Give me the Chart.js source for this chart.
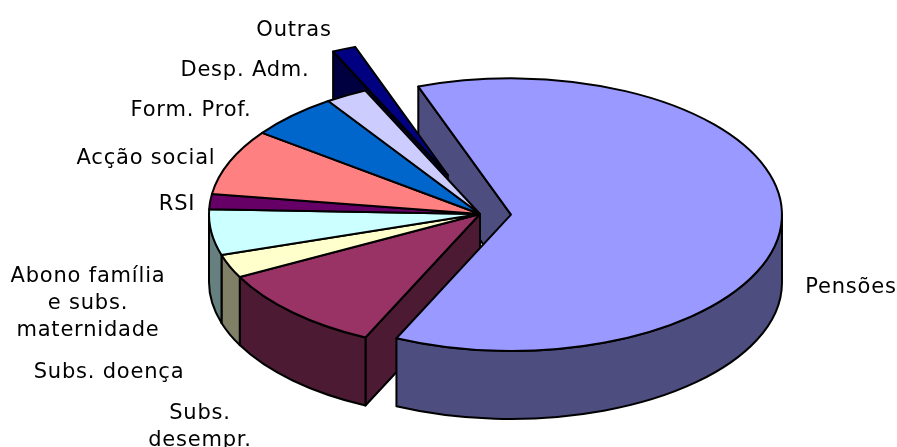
<!DOCTYPE html>
<html>
<head>
<meta charset="utf-8">
<script src="https://cdn.jsdelivr.net/npm/chart.js@4/dist/chart.umd.min.js"></script>
<style>
  html, body { margin: 0; padding: 0; background: #fff; }
  #wrap { width: 897px; height: 447px; }
</style>
</head>
<body>
<div id="wrap"><canvas id="chart"></canvas></div>
<script>
const categories = ['Pensões', 'Subs. desempr.', 'Subs. doença', 'Abono família e subs. maternidade',
    'RSI', 'Acção social', 'Form. Prof.', 'Desp. Adm.', 'Outras'];
const shares = [62.5, 10.4, 2.8, 5.4, 1.8, 7.8, 5.4, 2.5, 1.4];
const sliceColors = ['#9999FF', '#993366', '#FFFFCC', '#CCFFFF', '#660066', '#FF8080', '#0066CC', '#CCCCFF', '#000080'];
const explodePx = [31, 0, 0, 0, 0, 0, 0, 0, 84];

const labelLines = [['Pensões'], ['Subs.', 'desempr.'], ['Subs. doença'], ['Abono família', 'e subs.', 'maternidade'],
    ['RSI'], ['Acção social'], ['Form. Prof.'], ['Desp. Adm.'], ['Outras']];
const labelSpots = [[851, 293], [200, 419], [109, 378], [88, 282], [177, 210], [146, 164], [191, 116], [245, 76], [294, 36]];

const SQUASH = 0.503;
const DEPTH = 68;
const LINE_HEIGHT = 27;

function shade(hex) {
    const n = parseInt(hex.slice(1), 16);
    return `rgb(${Math.round((n >> 16) / 2)},${Math.round(((n >> 8) & 255) / 2)},${Math.round((n & 255) / 2)})`;
}

// slice geometry comes from the arc elements, the plugin only tilts and extrudes them
function origin(arc, i) {
    const mid = (arc.startAngle + arc.endAngle) / 2;
    return {
        x: arc.x + Math.cos(mid) * explodePx[i],
        y: arc.y + Math.sin(mid) * explodePx[i] * SQUASH
    };
}

function paint(ctx, fill) {
    ctx.fillStyle = fill;
    ctx.fill();
    ctx.stroke();
}

function drawTop(ctx, arc, i) {
    const o = origin(arc, i);
    ctx.beginPath();
    ctx.moveTo(o.x, o.y);
    ctx.ellipse(o.x, o.y, arc.outerRadius, arc.outerRadius * SQUASH, 0, arc.startAngle, arc.endAngle);
    ctx.closePath();
    paint(ctx, sliceColors[i]);
}

function drawCutFace(ctx, arc, i, angle) {
    const o = origin(arc, i);
    const ex = o.x + Math.cos(angle) * arc.outerRadius;
    const ey = o.y + Math.sin(angle) * arc.outerRadius * SQUASH;
    ctx.beginPath();
    ctx.moveTo(o.x, o.y);
    ctx.lineTo(ex, ey);
    ctx.lineTo(ex, ey + DEPTH);
    ctx.lineTo(o.x, o.y + DEPTH);
    ctx.closePath();
    paint(ctx, shade(sliceColors[i]));
}

function drawRim(ctx, arc, i) {
    // only the front half of the rim can be seen
    const from = Math.max(arc.startAngle, 0);
    const to = Math.min(arc.endAngle, Math.PI);
    if (to <= from) return;
    const o = origin(arc, i);
    const ry = arc.outerRadius * SQUASH;
    ctx.beginPath();
    ctx.ellipse(o.x, o.y, arc.outerRadius, ry, 0, from, to);
    ctx.ellipse(o.x, o.y + DEPTH, arc.outerRadius, ry, 0, to, from, true);
    ctx.closePath();
    paint(ctx, shade(sliceColors[i]));
}

const pie3d = {
    id: 'pie3d',
    beforeDatasetDraw(chart) {
        const ctx = chart.ctx;
        const arcs = chart.getDatasetMeta(0).data;
        const last = arcs.length - 1;
        ctx.save();
        ctx.lineWidth = 2;
        ctx.lineJoin = 'round';
        ctx.strokeStyle = '#000';

        // same stacking as the original: big slice cut face, far slice, pie walls, big slice rim, tops
        drawCutFace(ctx, arcs[0], 0, arcs[0].startAngle);
        drawCutFace(ctx, arcs[last], last, arcs[last].startAngle);
        drawTop(ctx, arcs[last], last);
        drawCutFace(ctx, arcs[1], 1, arcs[1].startAngle);
        for (let i = 1; i < last; i++) drawRim(ctx, arcs[i], i);
        drawRim(ctx, arcs[0], 0);
        for (let i = 1; i < last; i++) drawTop(ctx, arcs[i], i);
        drawTop(ctx, arcs[0], 0);
        ctx.restore();
        return false;
    },
    afterDraw(chart) {
        const ctx = chart.ctx;
        ctx.save();
        ctx.font = '21px "DejaVu Sans"';
        ctx.letterSpacing = '0.8px';
        ctx.fillStyle = '#000';
        ctx.textAlign = 'center';
        ctx.textBaseline = 'alphabetic';
        labelLines.forEach((lines, i) => {
            lines.forEach((line, k) => {
                ctx.fillText(line, labelSpots[i][0], labelSpots[i][1] + k * LINE_HEIGHT);
            });
        });
        ctx.restore();
    }
};

new Chart(document.getElementById('chart'), {
    type: 'doughnut',
    data: {
        labels: categories,
        datasets: [{
            data: shares,
            backgroundColor: sliceColors,
            borderWidth: 0
        }]
    },
    options: {
        responsive: true,
        maintainAspectRatio: false,
        animation: false,
        cutout: 0,
        radius: 271,
        rotation: -20,
        layout: { padding: { left: 63, bottom: 19 } },
        plugins: {
            legend: { display: false },
            tooltip: { enabled: false }
        }
    },
    plugins: [pie3d]
});
</script>
</body>
</html>
